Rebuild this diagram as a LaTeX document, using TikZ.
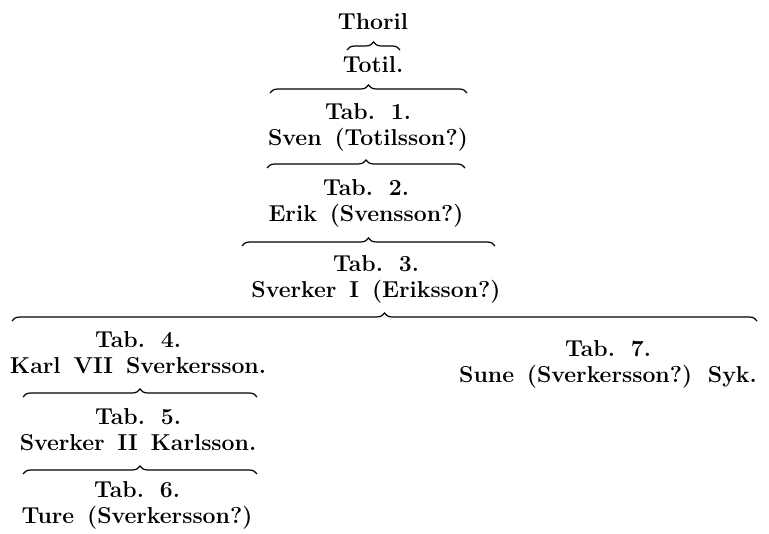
\documentclass[tikz,border=0pt]{standalone}
\usepackage{fontspec}
\setmainfont{Latin Modern Roman}[WordSpace=1.5]
\usepackage{tikz}
\usetikzlibrary{decorations.pathreplacing}
\tikzset{br/.style={decorate, decoration={brace, amplitude=8pt}, line width=1.2pt}}

\begin{document}
\begin{tikzpicture}[x=1pt, y=-1pt,
gen/.style={inner sep=0pt, align=center, font=\fontsize{23}{26}\selectfont\bfseries},
]
\useasboundingbox (0,0) rectangle (769,534);
\node[gen] (thoril) at (373,22) {Thoril};
\node[gen] (totil) at (373,65) {Totil.};
\node[gen] (t1) at (368,127) {Tab. 1.\\Sven (Totilsson?)};
\node[gen] (t2) at (366,203) {Tab. 2.\\Erik (Svensson?)};
\node[gen] (t3) at (376,279) {Tab. 3.\\Sverker I (Eriksson?)};
\node[gen] (t4) at (138,353) {Tab. 4.\\Karl VII Sverkersson.};
\node[gen] (t5) at (138,430) {Tab. 5.\\Sverker II Karlsson.};
\node[gen] (t6) at (137,505) {Tab. 6.\\Ture (Sverkersson?)};
\node[gen] (t7) at (608,364) {Tab. 7.\\Sune (Sverkersson?) Syk.};
% brace ends
\coordinate (aL) at (347,50);  \coordinate (aR) at (400,50);
\coordinate (bL) at (270,93);  \coordinate (bR) at (467,93);
\coordinate (cL) at (267,168); \coordinate (cR) at (465,168);
\coordinate (dL) at (242,246); \coordinate (dR) at (495,246);
\coordinate (eL) at (12,321);  \coordinate (eR) at (757,321);
\coordinate (fL) at (23,397);  \coordinate (fR) at (257,397);
\coordinate (gL) at (23,474);  \coordinate (gR) at (257,474);
\draw[br] (aL) -- (aR);
\draw[br] (bL) -- (bR);
\draw[br] (cL) -- (cR);
\draw[br] (dL) -- (dR);
\draw[br] (eL) -- (eR);
\draw[br] (fL) -- (fR);
\draw[br] (gL) -- (gR);
\end{tikzpicture}
\end{document}
